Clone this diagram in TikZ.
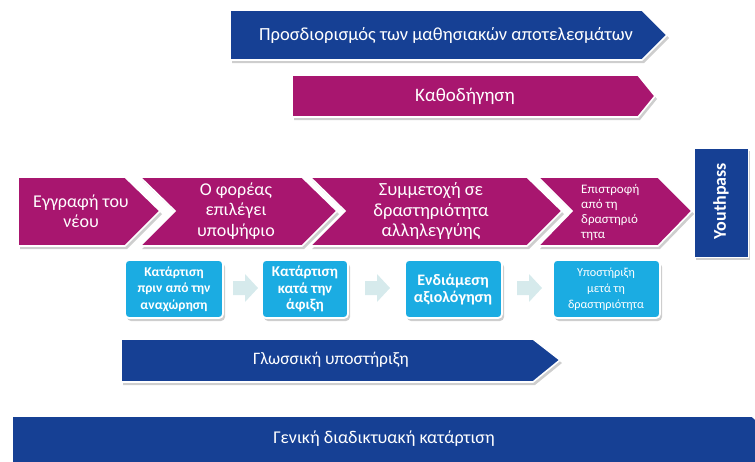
\documentclass[tikz,border=0pt]{standalone}
\usepackage{fontspec}
\setmainfont{Carlito}
\definecolor{mag}{RGB}{168,22,111}
\definecolor{navy}{RGB}{22,64,148}
\definecolor{cyanbox}{RGB}{27,172,226}
\definecolor{palearrow}{RGB}{214,234,236}
\tikzset{
  shadowfill/.style={fill=black!55,opacity=0.35},
  magshape/.style={fill=mag,draw=white,line width=1.6pt,line join=miter},
  navyshape/.style={fill=navy,draw=white,line width=1.6pt,line join=miter},
  boxshape/.style={fill=cyanbox,draw=white,line width=1.8pt,rounded corners=4pt},
  paleshape/.style={fill=palearrow},
  lbl/.style={text=white,align=center,inner sep=0pt},
}
\begin{document}
\begin{tikzpicture}[x=1pt,y=-1pt]
\useasboundingbox (0,0) rectangle (755,461);
\clip (0,0) rectangle (755,461);
% ---- top arrow
\fill[shadowfill,shift={(2,3)}] (230,10) -- (642,10) -- (667,35) -- (642,60) -- (230,60) -- cycle;
\path[navyshape] (230,10) -- (642,10) -- (667,35) -- (642,60) -- (230,60) -- cycle;
\node[lbl,font=\fontsize{18.5}{20}\selectfont] (goals) at (446,35) {Προσδιορισμός των μαθησιακών αποτελεσμάτων};
% ---- mentoring
\fill[shadowfill,shift={(2,3)}] (292,75) -- (638,75) -- (655,96) -- (638,117) -- (292,117) -- cycle;
\path[magshape] (292,75) -- (638,75) -- (655,96) -- (638,117) -- (292,117) -- cycle;
\node[lbl,font=\fontsize{19}{20}\selectfont] (mentor) at (465,96) {Καθοδήγηση};
% ---- chevron row
\fill[shadowfill,shift={(2,3)}] (18,177) -- (125,177) -- (160,211) -- (125,246) -- (18,246) -- cycle;
\path[magshape] (18,177) -- (125,177) -- (160,211) -- (125,246) -- (18,246) -- cycle;
\fill[shadowfill,shift={(2,3)}] (140,177) -- (302,177) -- (337,211) -- (302,246) -- (140,246) -- (175,211) -- cycle;
\path[magshape] (140,177) -- (302,177) -- (337,211) -- (302,246) -- (140,246) -- (175,211) -- cycle;
\fill[shadowfill,shift={(2,3)}] (310,177) -- (527,177) -- (562,211) -- (527,246) -- (310,246) -- (345,211) -- cycle;
\path[magshape] (310,177) -- (527,177) -- (562,211) -- (527,246) -- (310,246) -- (345,211) -- cycle;
\fill[shadowfill,shift={(2,3)}] (538,177) -- (658,177) -- (692,211) -- (658,246) -- (538,246) -- (572,211) -- cycle;
\path[magshape] (538,177) -- (658,177) -- (692,211) -- (658,246) -- (538,246) -- (572,211) -- cycle;
\node[lbl,font=\fontsize{18}{20.5}\selectfont] (reg) at (81,211) {Εγγραφή του\\νέου};
\node[lbl,font=\fontsize{18}{20.5}\selectfont] (select) at (236,211) {Ο φορέας\\επιλέγει\\υποψήφιο};
\node[lbl,font=\fontsize{18.5}{20.5}\selectfont] (part) at (431,211) {Συμμετοχή σε\\δραστηριότητα\\αλληλεγγύης};
\node[lbl,align=left,anchor=west,font=\fontsize{13}{15}\selectfont] (ret) at (581,212) {Επιστροφή\\από τη\\δραστηριό\\τητα};
% ---- youthpass
\fill[shadowfill,shift={(2,3)}] (694,148) rectangle (748,257);
\path[navyshape,line width=1pt] (694,148) rectangle (748,257);
\node[lbl,rotate=90,font=\fontsize{18}{20}\selectfont\bfseries] (yp) at (721,201) {Youthpass};
% ---- blue boxes
\foreach \a/\b in {125/223,262/348,405/502,553/660}{
  \fill[shadowfill,rounded corners=4pt,shift={(2,3)}] (\a,260) rectangle (\b,318);
  \path[boxshape] (\a,260) rectangle (\b,318);
}
\node[lbl,font=\fontsize{13.5}{16.5}\selectfont\bfseries] (t1) at (174,289) {Κατάρτιση\\πριν από την\\αναχώρηση};
\node[lbl,font=\fontsize{15}{16.5}\selectfont\bfseries] (t2) at (305,289) {Κατάρτιση\\κατά την\\άφιξη};
\node[lbl,font=\fontsize{16}{17}\selectfont\bfseries] (t3) at (453,290) {Ενδιάμεση\\αξιολόγηση};
\node[lbl,font=\fontsize{12.2}{16}\selectfont] (t4) at (606,289) {Υποστήριξη\\μετά τη\\δραστηριότητα};
% ---- pale block arrows between boxes
\foreach \s in {233,365,517}{
  \fill[paleshape] (\s,281) -- (\s+12,281) -- (\s+12,274) -- (\s+25,288) -- (\s+12,302) -- (\s+12,295) -- (\s,295) -- cycle;
}
% ---- language support
\fill[shadowfill,shift={(2,3)}] (121,339) -- (533,339) -- (560,360) -- (533,382) -- (121,382) -- cycle;
\path[navyshape] (121,339) -- (533,339) -- (560,360) -- (533,382) -- (121,382) -- cycle;
\node[lbl,font=\fontsize{17.5}{19}\selectfont] (lang) at (331,360) {Γλωσσική υποστήριξη};
% ---- general online training
\fill[shadowfill,shift={(2,3)}] (12,416) -- (752,416) -- (780,441) -- (752,466) -- (12,466) -- cycle;
\path[navyshape] (12,416) -- (752,416) -- (780,441) -- (752,466) -- (12,466) -- cycle;
\node[lbl,font=\fontsize{18}{19}\selectfont] (online) at (384,439) {Γενική διαδικτυακή κατάρτιση};
\end{tikzpicture}
\end{document}
